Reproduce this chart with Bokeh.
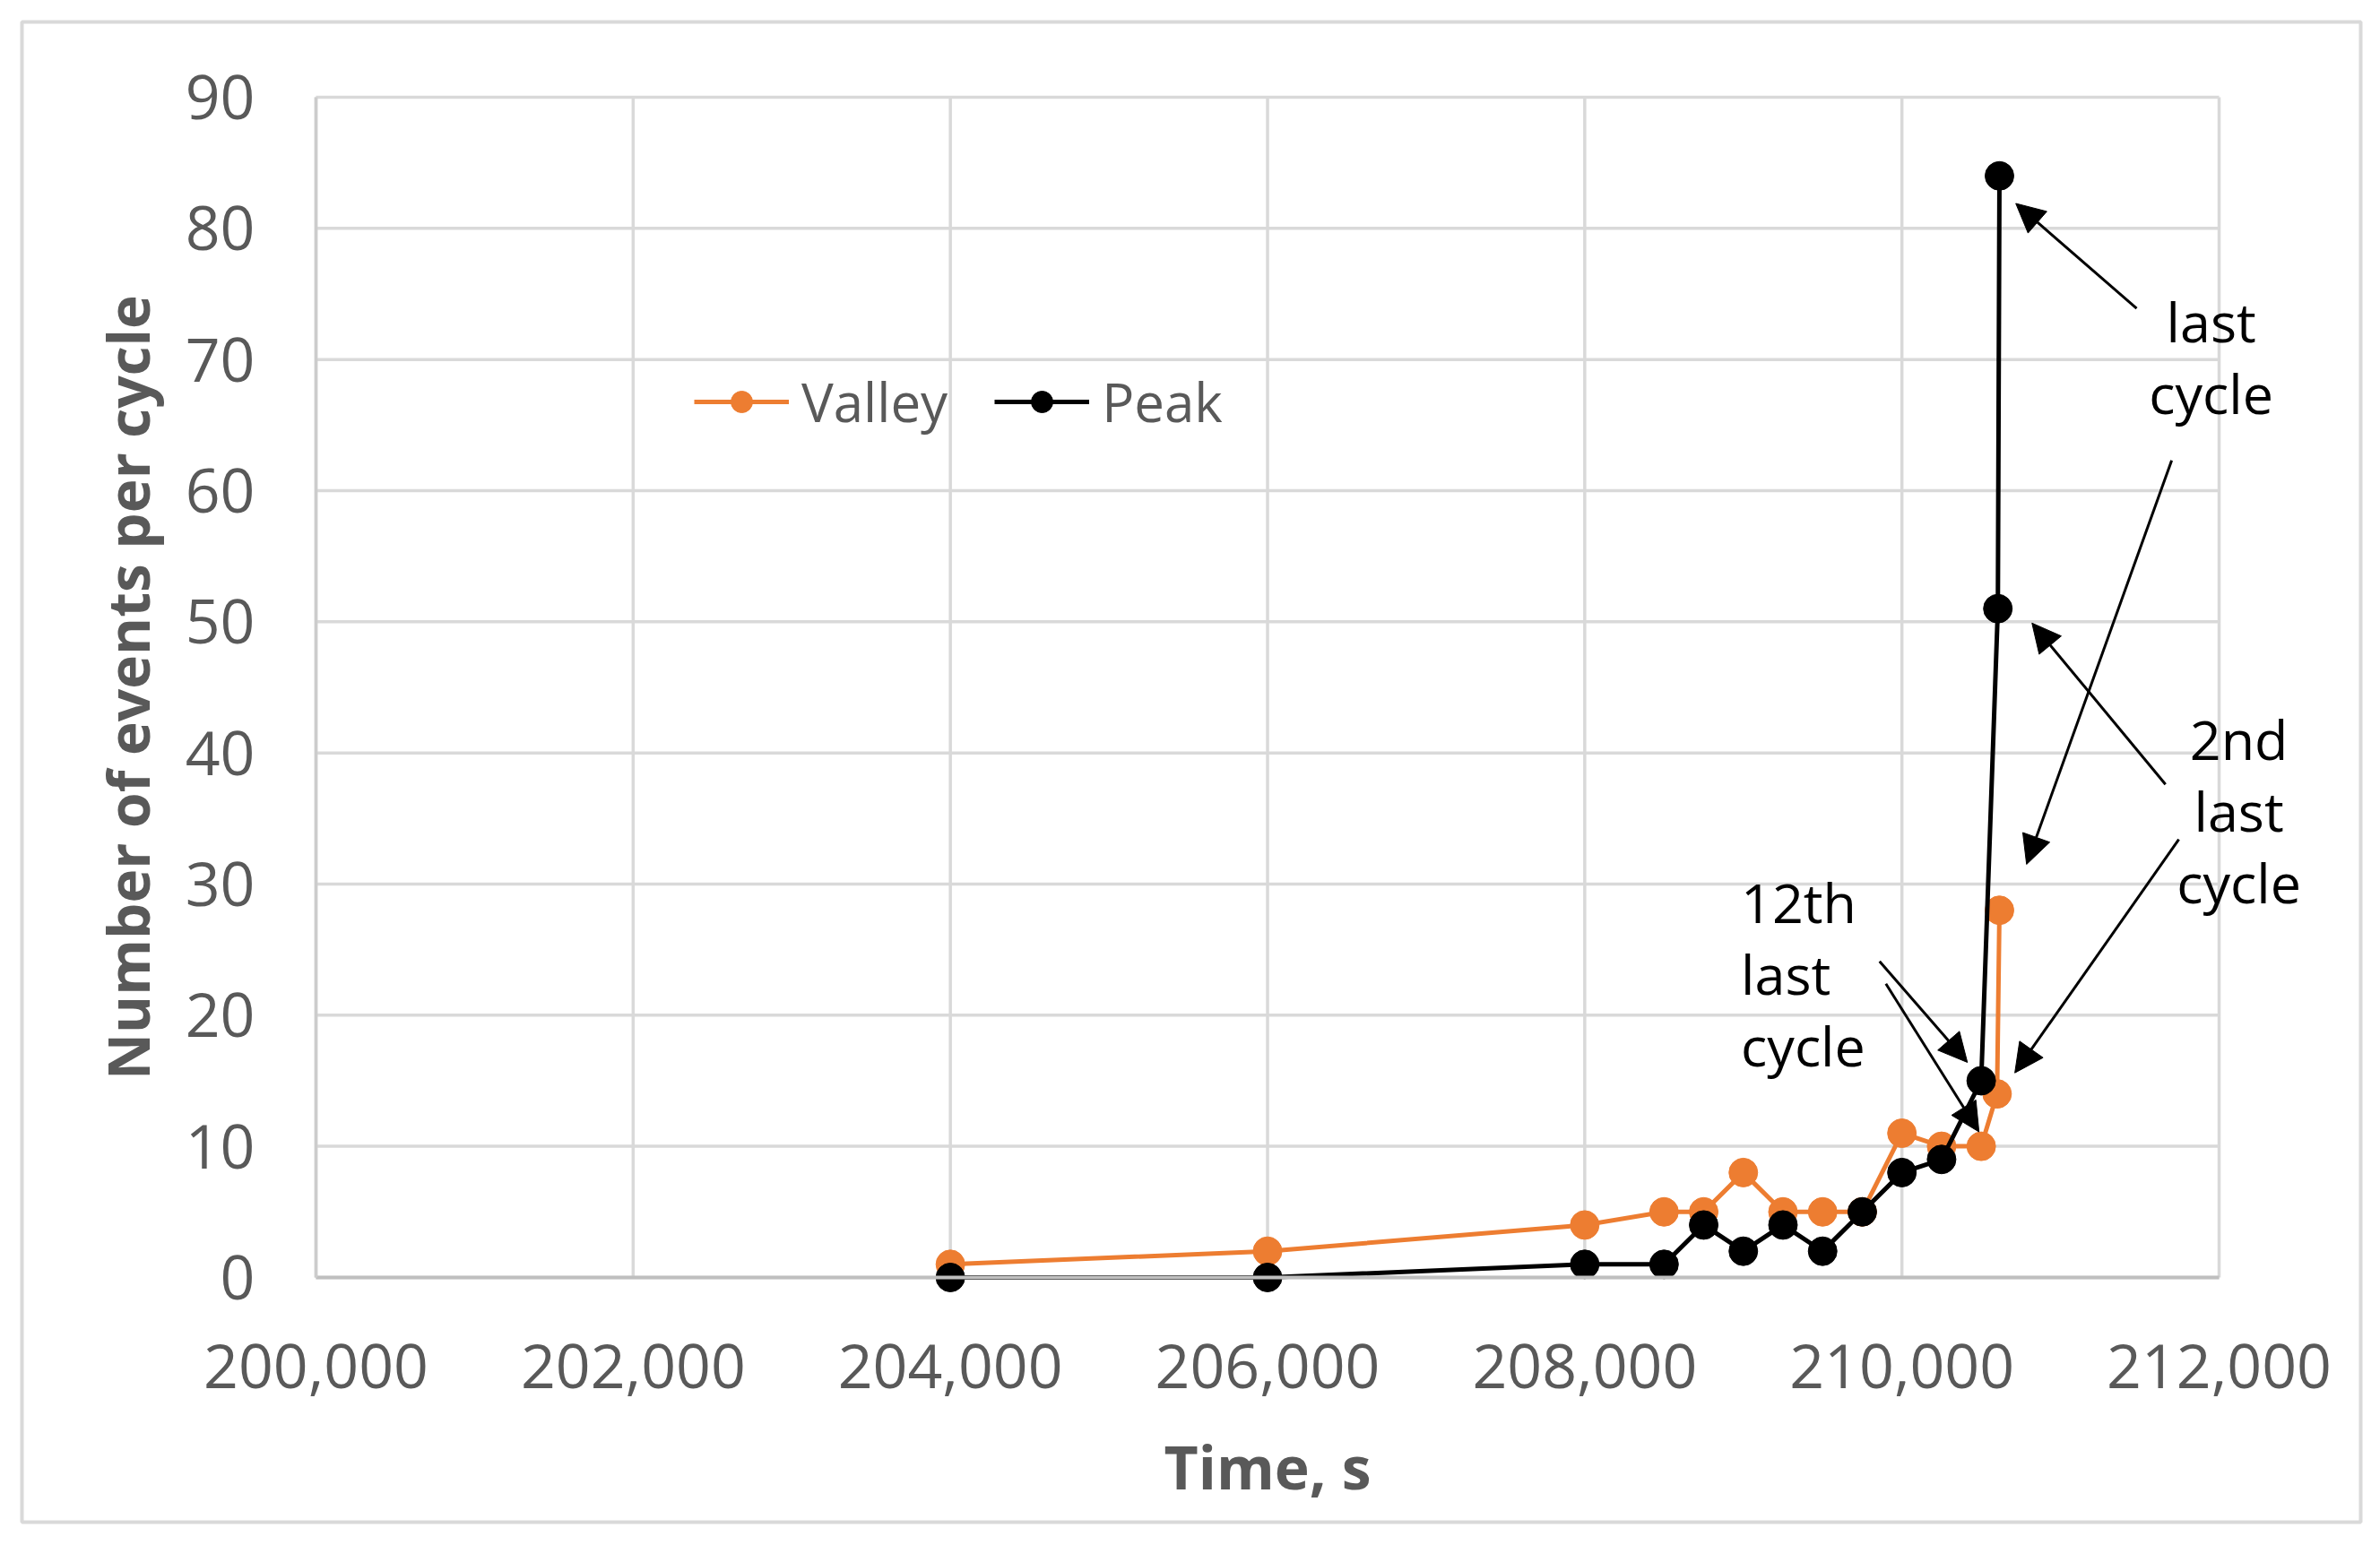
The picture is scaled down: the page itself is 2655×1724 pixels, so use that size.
from bokeh.plotting import figure
from bokeh.models import (Range1d, NumeralTickFormatter, FixedTicker, Legend, LegendItem,
                          Arrow, NormalHead, Label)
from bokeh.embed import file_html
from bokeh.resources import INLINE

# ---- data ----
time_valley = [204000, 206000, 208000, 208500, 208750, 209000, 209250, 209500, 209750,
               210000, 210250, 210500, 210600, 210615]
valley = [1, 2, 4, 5, 5, 8, 5, 5, 5, 11, 10, 10, 14, 28]
time_peak = [204000, 206000, 208000, 208500, 208750, 209000, 209250, 209500, 209750,
             210000, 210250, 210500, 210605, 210615]
peak = [0, 0, 1, 1, 4, 2, 4, 2, 5, 8, 9, 15, 51, 84]

x_ticks = [200000, 202000, 204000, 206000, 208000, 210000, 212000]
y_ticks = [0, 10, 20, 30, 40, 50, 60, 70, 80, 90]

# annotation texts: (lines, anchor x, first baseline y, align)
notes = [
    (["last", "cycle"], 211950, 72.9, "center"),
    (["2nd", "last", "cycle"], 212125, 41.1, "center"),
    (["12th", "last", "cycle"], 208985, 28.6, "left"),
]
# arrows: (x_start, y_start, x_end, y_end)
arrows = [
    (211480, 73.9, 210718, 81.9),
    (211701, 62.3, 210786, 31.5),
    (211662, 37.6, 210820, 49.9),
    (211746, 33.4, 210712, 15.6),
    (209859, 24.1, 210413, 16.4),
    (209899, 22.4, 210486, 11.1),
]

ORANGE = "#ED7D31"
GRAY_TXT = "#595959"
GRID = "#d9d9d9"
FONT = "Open Sans"

W, H = 2639, 1708
# the frame spans the whole chart box; the plot area is the bounded grid inside it
p = figure(width=W, height=H, output_backend="svg", toolbar_location=None,
           x_range=Range1d(198146, 212893), y_range=Range1d(-18.66, 95.74),
           min_border_left=24, min_border_right=6, min_border_top=24,
           min_border_bottom=10)
p.background_fill_color = "white"
p.border_fill_color = "white"
p.outline_line_color = GRID
p.outline_line_width = 4
p.grid.visible = False

# plot-area gridlines, limited to the axis extents
x0, x1 = x_ticks[0], x_ticks[-1]
y0, y1 = y_ticks[0], y_ticks[-1]
p.segment(x0=x_ticks, y0=[y0] * len(x_ticks), x1=x_ticks, y1=[y1] * len(x_ticks),
          line_color=GRID, line_width=3.5)
p.segment(x0=[x0] * len(y_ticks), y0=y_ticks, x1=[x1] * len(y_ticks), y1=y_ticks,
          line_color=GRID, line_width=3.5)

# axes
p.xaxis.ticker = FixedTicker(ticks=x_ticks)
p.yaxis.ticker = FixedTicker(ticks=y_ticks)
p.xaxis.formatter = NumeralTickFormatter(format="0,0")
p.xaxis.fixed_location = 0
p.yaxis.fixed_location = 200000
p.xaxis.bounds = (x0, x1)
p.yaxis.bounds = (y0, y1)
for ax in (p.xaxis, p.yaxis):
    ax.major_tick_in = 0
    ax.major_tick_out = 0
    ax.minor_tick_in = 0
    ax.minor_tick_out = 0
    ax.major_label_text_font = FONT
    ax.major_label_text_font_size = "68px"
    ax.major_label_text_color = GRAY_TXT
    ax.axis_label_text_font = FONT
    ax.axis_label_text_font_style = "bold"
    ax.axis_label_text_color = GRAY_TXT
p.xaxis.axis_line_color = "#bfbfbf"
p.xaxis.axis_line_width = 4
p.yaxis.axis_line_color = "#cccccc"
p.yaxis.axis_line_width = 3.5
p.xaxis.major_label_standoff = 75
p.yaxis.major_label_standoff = 68
p.xaxis.axis_label = "Time, s"
p.xaxis.axis_label_text_font_size = "66px"
p.xaxis.axis_label_standoff = 38
p.yaxis.axis_label = "Number of events per cycle"
p.yaxis.axis_label_text_font_size = "64px"
p.yaxis.axis_label_standoff = 18

# series
vl = p.line(time_valley, valley, line_color=ORANGE, line_width=5)
vs = p.scatter(time_valley, valley, size=32, fill_color=ORANGE, line_color=ORANGE)
pl = p.line(time_peak, peak, line_color="black", line_width=5)
ps = p.scatter(time_peak, peak, size=32, fill_color="black", line_color="black")

legend = Legend(items=[LegendItem(label="Valley", renderers=[vl, vs]),
                       LegendItem(label="Peak", renderers=[pl, ps])],
                location=(750, 1209), orientation="horizontal",
                glyph_width=106, glyph_height=60, label_height=60,
                label_standoff=14, spacing=52, padding=0, margin=0,
                label_text_font=FONT, label_text_font_size="60px",
                label_text_color=GRAY_TXT, border_line_color=None,
                background_fill_alpha=0)
p.add_layout(legend)

# arrows
for xs, ys, xe, ye in arrows:
    p.add_layout(Arrow(x_start=xs, y_start=ys, x_end=xe, y_end=ye,
                       line_color="black", line_width=3,
                       end=NormalHead(size=32, fill_color="black", line_color="black")))

# annotation texts
px_per_unit = 14.633
for lines, x, yb, align in notes:
    for i, t in enumerate(lines):
        p.add_layout(Label(x=x, y=yb - i * 80 / px_per_unit, text=t,
                           text_font=FONT, text_font_size="61px", text_color="black",
                           text_align=align, text_baseline="alphabetic"))

open("out.html", "w").write(file_html(p, INLINE))
